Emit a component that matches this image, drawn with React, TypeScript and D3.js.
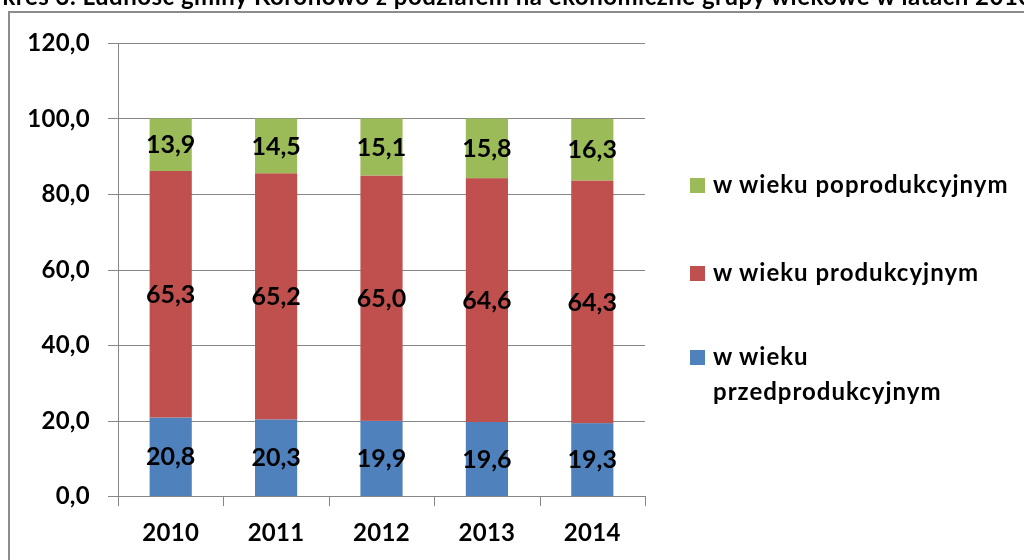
import React, { useEffect, useRef } from 'react';
import * as d3 from 'd3';

const years = ['2010', '2011', '2012', '2013', '2014'];
const przed = [20.8, 20.3, 19.9, 19.6, 19.3];
const prod = [65.3, 65.2, 65.0, 64.6, 64.3];
const poprod = [13.9, 14.5, 15.1, 15.8, 16.3];
const seriesNames = ['w wieku przedprodukcyjnym', 'w wieku produkcyjnym', 'w wieku poprodukcyjnym'];
const seriesColors = ['#4F81BD', '#C0504D', '#9BBB59'];
const yTicks = [0, 20, 40, 60, 80, 100, 120];
const title = 'Wykres 3. Ludność gminy Koronowo z podziałem na ekonomiczne grupy wiekowe w latach 2010-2014';

const W = 1024;
const H = 560;
const FONT = 'Lato, Carlito, Calibri, sans-serif';

const fmt = (v: number) => v.toFixed(1).replace('.', ',');

const App: React.FC = () => {
  const svgRef = useRef<SVGSVGElement>(null);

  useEffect(() => {
    if (!svgRef.current) return;
    const svg = d3.select(svgRef.current);
    svg.selectAll('*').remove();

    // title, clipped at the top like in the source image
    svg.append('text')
      .attr('x', -36)
      .attr('y', 5)
      .attr('font-family', FONT)
      .attr('font-weight', 700)
      .attr('font-size', 24)
      .attr('letter-spacing', 0.5)
      .attr('fill', '#000')
      .text(title);

    // chart frame (runs off right/bottom edge)
    svg.append('rect')
      .attr('x', 9)
      .attr('y', 12)
      .attr('width', 1100)
      .attr('height', 600)
      .attr('fill', '#fff')
      .attr('stroke', '#8c8c8c')
      .attr('stroke-width', 2);

    const left = 118, right = 645, top = 43, bottom = 496;

    const x = d3.scaleBand<string>()
      .domain(years)
      .range([left, right])
      .paddingInner(0.6)
      .paddingOuter(0.3);

    const y = d3.scaleLinear().domain([0, 120]).range([bottom, top]);

    const g = svg.append('g');

    // gridlines
    g.append('g')
      .selectAll('line')
      .data(yTicks)
      .enter()
      .append('line')
      .attr('x1', left - 10)
      .attr('x2', right)
      .attr('y1', d => Math.round(y(d)) + 0.5)
      .attr('y2', d => Math.round(y(d)) + 0.5)
      .attr('stroke', '#868686')
      .attr('stroke-width', 1);

    // y axis line
    g.append('line')
      .attr('x1', left + 0.5).attr('x2', left + 0.5)
      .attr('y1', top).attr('y2', bottom)
      .attr('stroke', '#868686');

    // x tick marks between categories
    const step = x.step();
    const xTickPos = d3.range(years.length + 1).map(i => left + i * step);
    g.append('g')
      .selectAll('line')
      .data(xTickPos)
      .enter()
      .append('line')
      .attr('x1', d => Math.round(d) + 0.5)
      .attr('x2', d => Math.round(d) + 0.5)
      .attr('y1', bottom)
      .attr('y2', bottom + 10)
      .attr('stroke', '#868686');

    // y tick labels
    g.append('g')
      .selectAll('text')
      .data(yTicks)
      .enter()
      .append('text')
      .attr('x', 90)
      .attr('y', d => y(d))
      .attr('dy', '0.35em')
      .attr('text-anchor', 'end')
      .attr('font-family', FONT)
      .attr('font-weight', 700)
      .attr('font-size', 24)
      .attr('letter-spacing', 0.3)
      .text(d => fmt(d));

    // x labels
    g.append('g')
      .selectAll('text')
      .data(years)
      .enter()
      .append('text')
      .attr('x', d => (x(d) || 0) + x.bandwidth() / 2)
      .attr('y', 541)
      .attr('text-anchor', 'middle')
      .attr('font-family', FONT)
      .attr('font-weight', 700)
      .attr('font-size', 24)
      .attr('letter-spacing', 0.3)
      .text(d => d);

    // stacked bars
    const rows = years.map((yr, i) => ({ year: yr, s0: przed[i], s1: prod[i], s2: poprod[i] }));
    const stack = d3.stack<any>().keys(['s0', 's1', 's2']);
    const layers = stack(rows);

    layers.forEach((layer, li) => {
      const lg = g.append('g');
      lg.selectAll('rect')
        .data(layer)
        .enter()
        .append('rect')
        .attr('x', d => x(d.data.year) || 0)
        .attr('width', x.bandwidth())
        .attr('y', d => y(d[1]))
        .attr('height', d => y(d[0]) - y(d[1]))
        .attr('fill', seriesColors[li]);

      lg.selectAll('text')
        .data(layer)
        .enter()
        .append('text')
        .attr('x', d => (x(d.data.year) || 0) + x.bandwidth() / 2)
        .attr('y', d => y((d[0] + d[1]) / 2))
        .attr('dy', '0.35em')
        .attr('text-anchor', 'middle')
        .attr('font-family', FONT)
        .attr('font-weight', 700)
        .attr('font-size', 25)
        .attr('fill', '#000')
        .text(d => fmt(d[1] - d[0]));
    });

    // legend
    const legendItems = [
      { name: seriesNames[2], color: seriesColors[2], y: 185 },
      { name: seriesNames[1], color: seriesColors[1], y: 273 },
      { name: seriesNames[0], color: seriesColors[0], y: 357 }
    ];
    const lgd = svg.append('g');
    legendItems.forEach(item => {
      lgd.append('rect')
        .attr('x', 690)
        .attr('y', item.y - 7)
        .attr('width', 15)
        .attr('height', 15)
        .attr('fill', item.color);
      const lines = item.name === seriesNames[0] ? ['w wieku', 'przedprodukcyjnym'] : [item.name];
      lines.forEach((w, wi) => {
        lgd.append('text')
          .attr('x', 713)
          .attr('y', item.y + wi * 35)
          .attr('dy', '0.35em')
          .attr('font-family', FONT)
          .attr('font-weight', 700)
          .attr('font-size', 24)
          .attr('letter-spacing', 1)
          .text(w);
      });
    });
  }, []);

  return (
    <svg
      ref={svgRef}
      width={W}
      height={H}
      viewBox={`0 0 ${W} ${H}`}
      style={{ position: 'fixed', left: 0, top: 0, display: 'block' }}
    />
  );
};

export default App;
